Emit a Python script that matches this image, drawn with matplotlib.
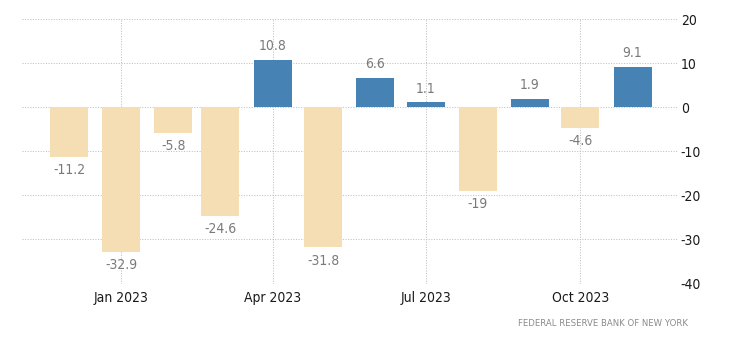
import matplotlib
matplotlib.use("Agg")
import matplotlib.pyplot as plt
from matplotlib import font_manager
import datetime as dt

months = ["2022-12-01", "2023-01-01", "2023-02-01", "2023-03-01", "2023-04-01", "2023-05-01",
          "2023-06-01", "2023-07-01", "2023-08-01", "2023-09-01", "2023-10-01", "2023-11-01"]
values = [-11.2, -32.9, -5.8, -24.6, 10.8, -31.8, 6.6, 1.1, -19, 1.9, -4.6, 9.1]
labels = ["-11.2", "-32.9", "-5.8", "-24.6", "10.8", "-31.8", "6.6", "1.1", "-19", "1.9", "-4.6", "9.1"]
xtick_dates = ["2023-01-01", "2023-04-01", "2023-07-01", "2023-10-01"]
xtick_labels = ["Jan 2023", "Apr 2023", "Jul 2023", "Oct 2023"]
yticks = [20, 10, 0, -10, -20, -30, -40]
source = "FEDERAL RESERVE BANK OF NEW YORK"

plt.rcParams['axes.unicode_minus'] = False

# look for a condensed regular font
cands = []
for f in font_manager.fontManager.ttflist:
    nm = f.name + " " + str(f.stretch) + " " + f.fname
    low = nm.lower()
    if ("narrow" in low or "condensed" in low) and f.weight in (400, "normal", "regular") and f.style == "normal":
        cands.append(f)
chosen = None
for pref in ["liberation sans narrow", "condensed"]:
    for f in cands:
        if pref in (f.name + " " + f.fname).lower() and "bold" not in f.fname.lower():
            chosen = f
            break
    if chosen:
        break

if chosen is not None:
    fp = font_manager.FontProperties(fname=chosen.fname)
    base = 10
else:
    fp = font_manager.FontProperties(family="Liberation Sans")
    base = 8.5

dates = [dt.datetime.strptime(d, "%Y-%m-%d") for d in months]
xt = [dt.datetime.strptime(d, "%Y-%m-%d") for d in xtick_dates]

fig = plt.figure(figsize=(7.30, 3.51), dpi=100)
ax = fig.add_axes([0.0301, 0.1923, 0.8986, 0.7531])

colors = ["#4682B4" if v >= 0 else "#F5DEB3" for v in values]
ax.bar(dates, values, width=22.6, color=colors, zorder=2)

def F(size):
    p = fp.copy()
    p.set_size(size)
    return p

for d, v, l in zip(dates, values, labels):
    off = 10 if v >= 0 else -9.5
    ax.annotate(l, (d, v), xytext=(0, off), textcoords="offset points",
                ha="center", va="center", color="#7a7a7a", fontproperties=F(base))

ax.set_xlim(dt.datetime(2022, 11, 3), dt.datetime(2023, 11, 28))
ax.set_ylim(-40, 20)
ax.set_yticks(yticks)
ax.set_yticklabels([str(t) for t in yticks], fontproperties=F(base))
ax.set_xticks(xt)
ax.set_xticklabels(xtick_labels, fontproperties=F(base))
ax.yaxis.tick_right()
ax.tick_params(axis='both', length=0, colors="#1a1a1a")
ax.tick_params(axis='y', pad=2)
ax.tick_params(axis='x', pad=5.5)
for s in ax.spines.values():
    s.set_visible(False)
ax.grid(True, color="#c0c0c0", linestyle=(0, (1, 1.5)), linewidth=0.75, zorder=0)
ax.set_axisbelow(True)

fig.text(688/730, 1 - 323/351, source, ha="right", va="center",
         fontproperties=F(base * 0.68), color="#8a8a8a")

fig.savefig("out.png", dpi=100)
